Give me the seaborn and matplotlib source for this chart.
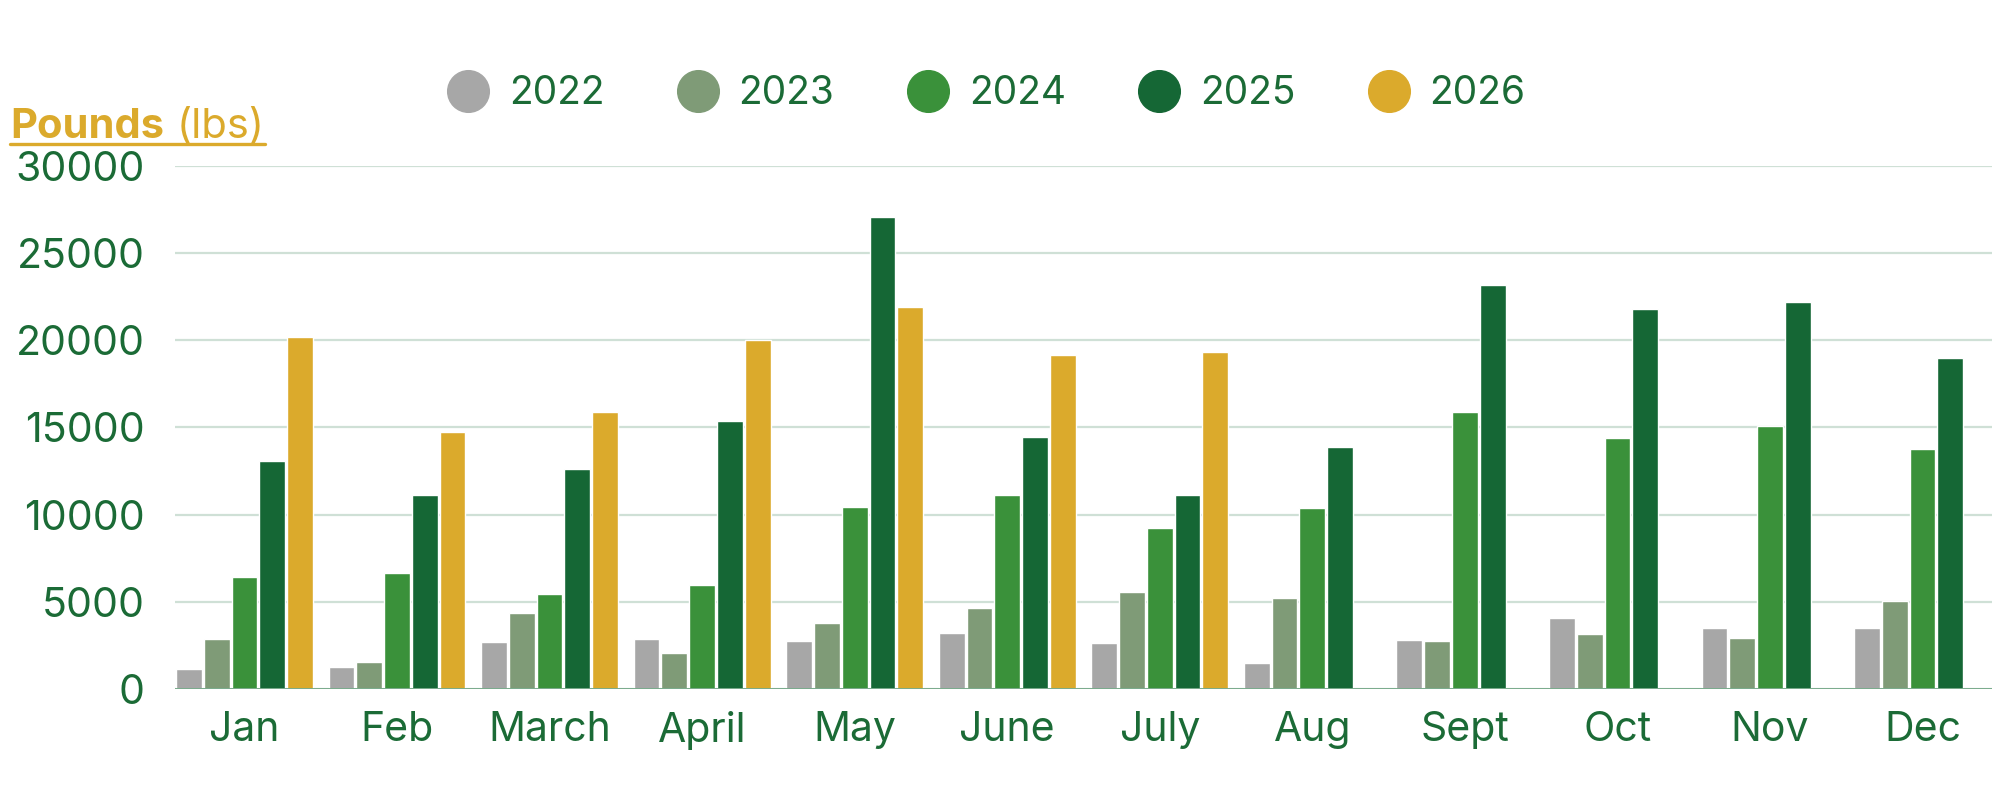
import pandas as pd
import matplotlib
matplotlib.use("Agg")
import matplotlib.pyplot as plt
from matplotlib.lines import Line2D
import seaborn as sns

# Dados (libras por mês)
meses = ["Jan", "Feb", "March", "April", "May", "June", "July", "Aug", "Sept", "Oct", "Nov", "Dec"]
anos = ["2022", "2023", "2024", "2025", "2026"]
v2022 = [1110, 1230, 2710, 2870, 2770, 3220, 2630, 1460, 2790, 4050, 3480, 3500]
v2023 = [2870, 1540, 4370, 2030, 3750, 4620, 5560, 5190, 2740, 3170, 2900, 5020]
v2024 = [6440, 6630, 5460, 5950, 10460, 11140, 9210, 10360, 15880, 14380, 15070, 13760]
v2025 = [13070, 11100, 12620, 15390, 27100, 14460, 11100, 13850, 23190, 21790, 22190, 18980]
v2026 = [20190, 14710, 15900, 20010, 21890, 19180, 19330, None, None, None, None, None]
y_ticks = [0, 5000, 10000, 15000, 20000, 25000, 30000]

series = {"2022": v2022, "2023": v2023, "2024": v2024, "2025": v2025, "2026": v2026}
linhas = []
for ano in anos:
    for mes, valor in zip(meses, series[ano]):
        linhas.append({"mes": mes, "ano": ano, "libras": valor})
df = pd.DataFrame(linhas)

# Cores
CINZA = "#a7a7a7"
SALVIA = "#7f9b77"
VERDE = "#3a913a"
VERDE_ESC = "#156735"
OURO = "#dbaa2c"
TEXTO = "#1b6b36"
GRADE = "#cfe0d6"
cores = dict(zip(anos, [CINZA, SALVIA, VERDE, VERDE_ESC, OURO]))

sns.set_theme(style="white")
plt.rcParams["font.family"] = ["Inter", "DejaVu Sans"]

fig = plt.figure(figsize=(20, 8), dpi=100)
ax = fig.add_axes([0.0875, 0.139, 0.9085, 0.6535])

sns.barplot(data=df, x="mes", y="libras", hue="ano", order=meses, hue_order=anos,
            palette=cores, width=0.91, gap=0.07, saturation=1, legend=False, ax=ax)

ax.set_xlim(-0.455, 11.455)
ax.set_ylim(0, 30000)
ax.set_yticks(y_ticks)
ax.set_xlabel("")
ax.set_ylabel("")
ax.grid(axis="y", color=GRADE, linewidth=1.6)
ax.set_axisbelow(True)
ax.axhline(0, color="#7aab8c", linewidth=1.4, zorder=3)
sns.despine(ax=ax, left=True, bottom=True)
ax.tick_params(axis="y", length=0, pad=22, labelsize=29.5, labelcolor=TEXTO)
ax.tick_params(axis="x", length=0, pad=16, labelsize=29.5, labelcolor=TEXTO)

# Legenda com círculos
handles = [Line2D([], [], linestyle="", marker="o", markersize=30, color=cores[a]) for a in anos]
leg = fig.legend(handles, anos, loc="center", bbox_to_anchor=(0.4935, 1 - 94 / 800), ncol=5,
                 frameon=False, fontsize=28, handlelength=1.0, handletextpad=0.55,
                 columnspacing=1.9)
for t in leg.get_texts():
    t.set_color(TEXTO)

# Título do eixo y: "Pounds (lbs)" sublinhado
t1 = fig.text(10 / 2000, 1 - 127 / 800, "Pounds", fontsize=30, fontweight="bold",
              color=OURO, va="center", ha="left")
fig.canvas.draw()
r = fig.canvas.get_renderer()
b1 = t1.get_window_extent(r)
t2 = fig.text((b1.x1 + 13) / 2000, 1 - 127 / 800, "(lbs)", fontsize=30,
              color=OURO, va="center", ha="left")
b2 = t2.get_window_extent(r)
y_sub = (b1.y0 + 2) / 800
fig.add_artist(Line2D([b1.x0 / 2000, b2.x1 / 2000], [y_sub, y_sub], color=OURO, linewidth=2.4))

fig.savefig("out.png", dpi=100)
